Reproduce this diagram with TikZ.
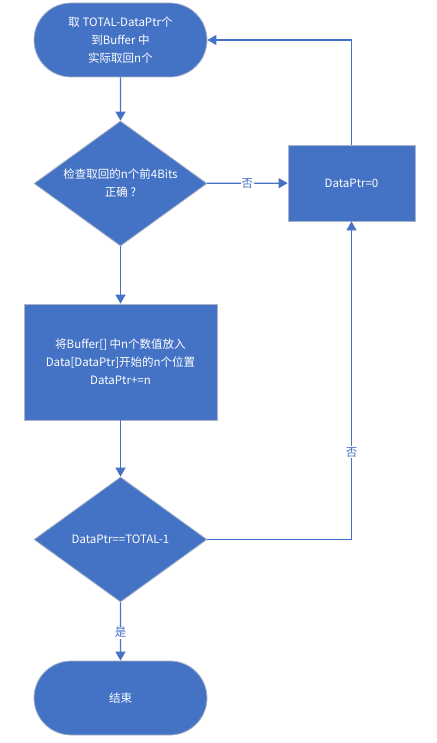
\documentclass[tikz,border=0pt]{standalone}
\usepackage{fontspec}
\setmainfont{Noto Sans CJK SC}
\usetikzlibrary{shapes.geometric,shapes.misc,arrows.meta}
\definecolor{fillblue}{HTML}{4472C4}
\definecolor{edgegrey}{HTML}{A9B4C6}
\begin{document}
\begin{tikzpicture}[x=1pt,y=-1pt,
  base/.style={fill=fillblue,draw=edgegrey,line width=0.8pt,text=white,font=\fontsize{11.5}{18}\selectfont,align=center,inner sep=0pt},
  term/.style={base,rounded rectangle,minimum width=173pt,minimum height=74pt},
  boxnode/.style={base,rectangle},
  dia/.style={base,diamond,aspect=1.384,minimum width=173pt,minimum height=125pt},
  conn/.style={draw=fillblue,line width=1.2pt,-{Triangle[length=9pt,width=10pt]}},
  lbl/.style={fill=white,text=fillblue,font=\fontsize{11.5}{12}\selectfont,inner sep=1pt}]
\useasboundingbox (0,0) rectangle (436,743);
\node[term] (start) at (120.5,40) {取 TOTAL-DataPtr个\\到Buffer 中\\实际取回n个};
\node[dia] (chk) at (120.5,183.5) {检查取回的n个前4Bits\\正确 ?};
\node[boxnode,minimum width=127pt,minimum height=76pt] (reset) at (351.5,183) {DataPtr=0};
\node[boxnode,minimum width=193pt,minimum height=116pt] (copy) at (120.5,362) {将Buffer[] 中n个数值放入\\Data[DataPtr]开始的n个位置\\DataPtr+=n};
\node[dia] (cmp) at (120.5,539.5) {DataPtr==TOTAL-1};
\node[term] (stop) at (120.5,698) {结束};
\draw[conn] (start) -- (chk);
\draw[conn] (chk) -- node[lbl] {否} (reset);
\draw[conn] (reset.north) |- (start.east);
\draw[conn] (chk) -- (copy);
\draw[conn] (copy) -- (cmp);
\draw[conn] (cmp.east) -| node[lbl,pos=0.637] {否} (reset.south);
\draw[conn] (cmp) -- node[lbl,pos=0.52] {是} (stop);
\end{tikzpicture}
\end{document}
